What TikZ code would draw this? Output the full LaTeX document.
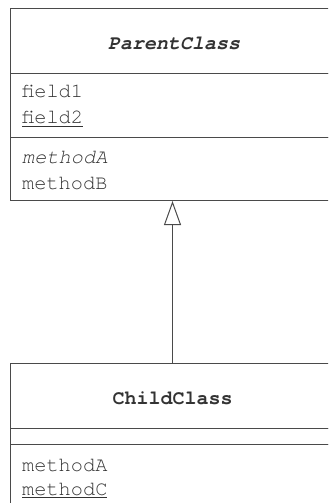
\documentclass[tikz,border=0pt]{standalone}
\usepackage{fontspec}
\newfontfamily\cur{texgyrecursor}[Extension=.otf, UprightFont=*-regular, BoldFont=*-bold, ItalicFont=*-italic, BoldItalicFont=*-bolditalic]
\usetikzlibrary{arrows.meta}
\definecolor{ink}{HTML}{333333}
\definecolor{linec}{HTML}{4A4A4A}
\tikzset{
  comp/.style={draw=linec, line width=1bp, anchor=north west, inner sep=0pt, minimum width=325bp},
  lbl/.style={anchor=base west, inner sep=0pt, text=ink, font=\cur\fontsize{20.3bp}{26bp}\selectfont},
  title/.style={anchor=base, inner sep=0pt, text=ink, font=\cur\fontsize{20bp}{26bp}\selectfont\bfseries},
  inherit/.style={draw=linec, line width=1bp, -{Triangle[open, width=17bp, length=24bp, line width=1bp]}}
}
\begin{document}
\begin{tikzpicture}[x=1bp,y=-1bp]
\useasboundingbox (0,0) rectangle (328,503);
\clip (0,0) rectangle (328,503);
% Parent class
\node[comp, minimum height=65bp] (ph) at (9.5,8) {};
\node[comp, minimum height=64bp] (pf) at (9.5,73) {};
\node[comp, minimum height=63bp] (pm) at (9.5,137) {};
\node[title] (pt) at (174,50) {\itshape ParentClass};
\node[lbl] (f1) at (22,98) {field1};
\node[lbl] (f2) at (22,124) {\underline{field2}};
\node[lbl] (ma) at (22,164) {\itshape methodA};
\node[lbl] (mb) at (22,190) {methodB};
% Child class
\node[comp, minimum height=65bp] (ch) at (9.5,363) {};
\node[comp, minimum height=16bp] (cf) at (9.5,428) {};
\node[comp, minimum height=70bp] (cm) at (9.5,444) {};
\node[title] (ct) at (172.5,404) {ChildClass};
\node[lbl] (cma) at (22,471) {methodA};
\node[lbl] (cmc) at (22,495) {\underline{methodC}};
% Inheritance
\draw[inherit] (ch.north) -- (pm.south);
\end{tikzpicture}
\end{document}
